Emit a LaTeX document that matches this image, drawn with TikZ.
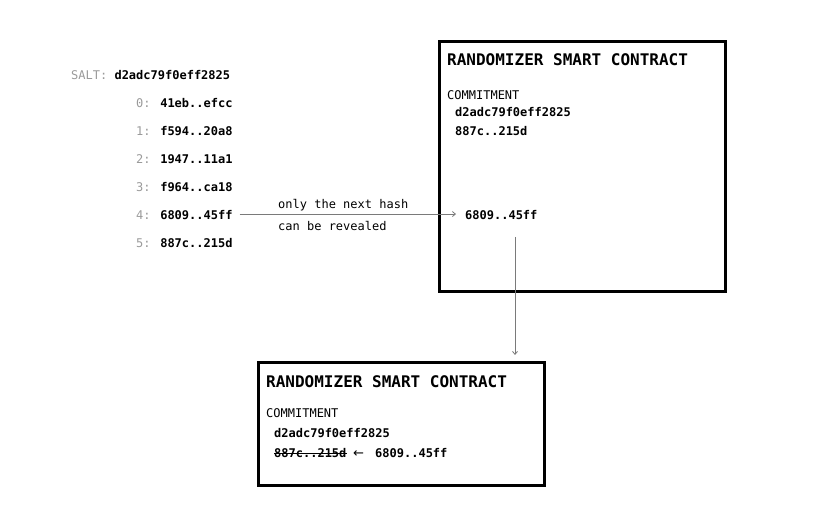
\documentclass[tikz,border=0pt]{standalone}
\usepackage{fontspec}
\setmainfont{DejaVu Sans Mono}
\newfontfamily\arrowfont{DejaVu Sans}
\usetikzlibrary{arrows.meta}

\definecolor{labelgray}{HTML}{9A9A9A}
\definecolor{wiregray}{HTML}{7A7A7A}

\tikzset{
  txt/.style={anchor=base west,inner sep=0pt,font=\fontsize{12}{14}\selectfont},
  hashtxt/.style={txt,font=\fontsize{12}{14}\selectfont\bfseries},
  title/.style={anchor=base west,inner sep=0pt,font=\fontsize{16}{19}\selectfont\bfseries},
  contract/.style={draw,line width=2.6pt,anchor=north west,inner sep=0pt},
  wire/.style={draw=wiregray,line width=0.8pt,-{Straight Barb[length=3pt,width=5pt]}}
}

\begin{document}
\begin{tikzpicture}[x=1pt,y=-1pt]
    \useasboundingbox (0,0) rectangle (825,526);

    % salt and hash chain
    \node[hashtxt] (salt) at (71,79.5) {\textcolor{labelgray}{\mdseries SALT:} d2adc79f0eff2825};
    \foreach \i/\h in {0/41eb..efcc,1/f594..20a8,2/1947..11a1,3/f964..ca18,4/6809..45ff,5/887c..215d}
      \node[hashtxt] (h\i) at (136,107.5+28*\i) {\textcolor{labelgray}{\mdseries\i:} \h};

    % first contract
    \node[contract,minimum width=286pt,minimum height=250pt] (box1) at (438,40) {};
    \node[title] (title1) at (447,66) {RANDOMIZER SMART CONTRACT};
    \node[txt] (commit1) at (447,100) {COMMITMENT};
    \node[hashtxt] (seed1) at (455,116.5) {d2adc79f0eff2825};
    \node[hashtxt] (last1) at (455,135.5) {887c..215d};
    \node[hashtxt] (reveal) at (465,219.5) {6809..45ff};

    \draw[wire,shorten <=7pt,shorten >=9pt] ([yshift=1pt]h4.east) -- ([yshift=1pt]reveal.west);
    \node[txt] (note1) at (278,209) {only the next hash};
    \node[txt] (note2) at (278,231) {can be revealed};

    % second contract
    \node[contract,minimum width=286pt,minimum height=123pt] (box2) at (257,361) {};
    \node[title] (title2) at (266,388) {RANDOMIZER SMART CONTRACT};
    \node[txt] (commit2) at (266,417.5) {COMMITMENT};
    \node[hashtxt] (seed2) at (274,437.5) {d2adc79f0eff2825};
    \node[hashtxt] (old) at (274,457.5) {887c..215d};
    \node[hashtxt,font=\fontsize{13}{15}\selectfont\arrowfont] (larr) at (353,458) {←};
    \node[hashtxt] (new) at (375,457.5) {6809..45ff};
    \draw[line width=1.6pt] ([yshift=4pt]old.base west) -- ([yshift=4pt]old.base east);

    \coordinate (drop) at (515,237);
    \draw[wire] (drop) -- ([yshift=6pt]drop |- box2.north);
  \end{tikzpicture}
\end{document}
